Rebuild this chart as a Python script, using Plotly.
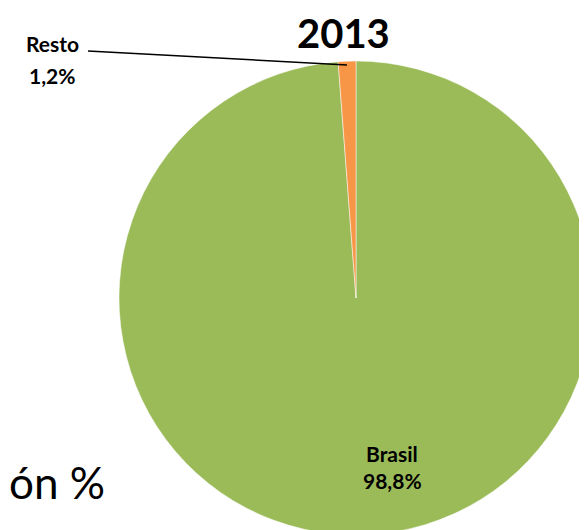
import plotly.graph_objects as go

# Data
categories = ["Brasil", "Resto"]
shares = [98.8, 1.2]
colors = ["#9BBB59", "#F79646"]
title_text = "2013"

def fmt(v):
    return f"{v:.1f}".replace(".", ",") + "%"

W, H = 587, 530
# page body has an 8px margin, so canvas coords = screen coords - 8
cx, cy, r = 348, 290, 237

fig = go.Figure()
fig.add_trace(go.Pie(
    labels=categories,
    values=shares,
    sort=False,
    direction="clockwise",
    rotation=0,
    marker=dict(colors=colors, line=dict(color="white", width=0.5)),
    textinfo="none",
    hoverinfo="label+percent",
    showlegend=False,
    domain=dict(x=[(cx - r) / W, (cx + r) / W], y=[1 - (cy + r) / H, 1 - (cy - r) / H]),
))

FONT = "Lato, 'Open Sans', Arial, sans-serif"

def px(x):
    return x / W

def py(y):
    return 1 - y / H

def lab(x, y, text, size, bold=True, anchor="center", yanchor="middle"):
    return dict(x=px(x), y=py(y), text=f"<b>{text}</b>" if bold else text, showarrow=False,
                font=dict(size=size, color="black", family=FONT),
                xanchor=anchor, yanchor=yanchor, borderpad=0)

annotations = [
    lab(335, 0, title_text, 40, yanchor="top"),
    lab(44, 36, categories[1], 21),
    lab(44, 68, fmt(shares[1]), 21),
    lab(384, 445, categories[0], 21),
    lab(384, 472, fmt(shares[0]), 21),
    lab(0, 474, "ón %", 44, bold=False, anchor="left"),
]

shapes = [
    dict(type="line", xref="paper", yref="paper", x0=px(80), y0=py(43), x1=px(339), y1=py(57),
         line=dict(color="black", width=1.5)),
]

fig.update_layout(
    width=W, height=H,
    margin=dict(l=0, r=0, t=0, b=0),
    paper_bgcolor="white",
    plot_bgcolor="white",
    annotations=annotations,
    shapes=shapes,
)

fig.write_html("out.html")
